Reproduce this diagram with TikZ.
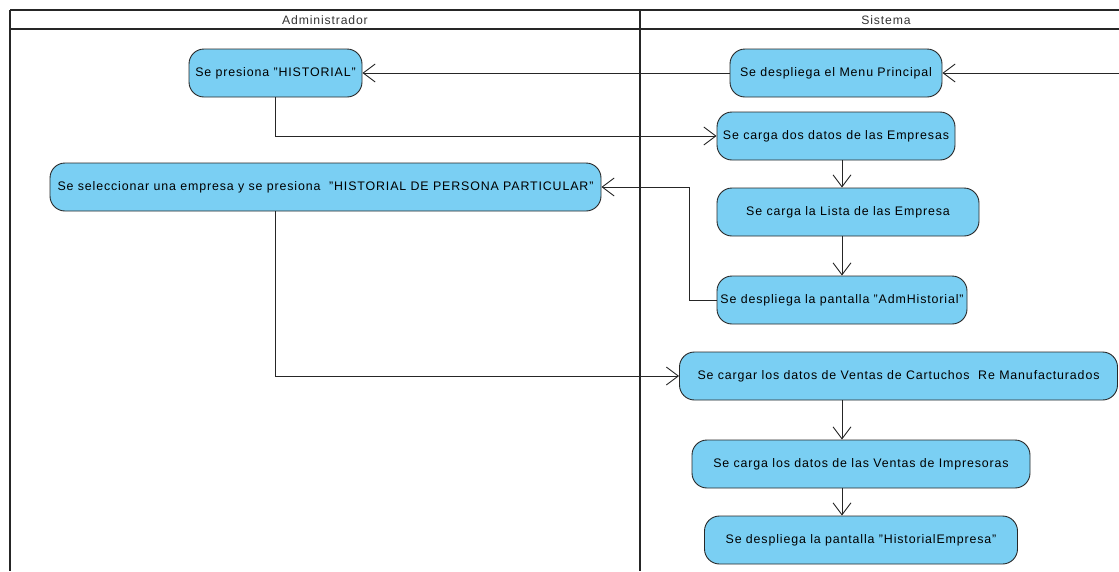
\documentclass[tikz,border=0pt]{standalone}
\usepackage{fontspec}
\setmainfont{Liberation Sans}[LetterSpace=7]
\usetikzlibrary{arrows.meta}
\definecolor{actfill}{RGB}{122,207,243}
\definecolor{actline}{RGB}{40,40,40}
\tikzset{
  act/.style={draw=actline, line width=0.9pt, fill=actfill, rounded corners=15pt,
    minimum height=48pt, inner sep=2pt, align=center, font=\fontsize{12.4pt}{14pt}\selectfont},
  lane/.style={line width=2pt, draw=black!85},
  lanethin/.style={line width=1.3pt, draw=black!85},
  flow/.style={line width=0.9pt, draw=black!85,
    -{Straight Barb[length=12pt,width=18pt,line width=0.9pt]}},
  hdr/.style={font=\fontsize{12.2pt}{13pt}\selectfont, text=black!80}
}
\begin{document}
\begin{tikzpicture}[x=1pt,y=-1pt]
\useasboundingbox (0,0) rectangle (1119,571);
% swimlanes
\draw[lanethin] (1119,10) -- (10,10);
\draw[lane] (10,10) -- (10,571);
\draw[lane] (10,29) -- (1119,29);
\draw[lane] (640,10) -- (640,571);
\node[hdr] (hadm) at (325,20) {Administrador};
\node[hdr] (hsis) at (886,20) {Sistema};
% activities
\node[act, minimum width=173pt] (n1) at (275.5,73) {Se presiona "HISTORIAL"};
\node[act, minimum width=212pt] (n2) at (836,73) {Se despliega el Menu Principal};
\node[act, minimum width=238pt] (n3) at (836,136) {Se carga dos datos de las Empresas};
\node[act, minimum width=551pt] (n4) at (325.5,187) {Se seleccionar una empresa y se presiona \ "HISTORIAL DE PERSONA PARTICULAR"};
\node[act, minimum width=262pt] (n5) at (848,212) {Se carga la Lista de las Empresa};
\node[act, minimum width=250pt] (n6) at (842,300) {Se despliega la pantalla "AdmHistorial"};
\node[act, minimum width=438pt] (n7) at (898.5,376) {Se cargar los datos de Ventas de Cartuchos \ Re Manufacturados};
\node[act, minimum width=338pt] (n8) at (861,464) {Se carga los datos de las Ventas de Impresoras};
\node[act, minimum width=313pt] (n9) at (861,540) {Se despliega la pantalla "HistorialEmpresa"};
% helper coordinates
\coordinate (entry) at (1119,73);
\coordinate (col) at (842,0);
\coordinate (lcol) at (275,0);
% connectors
\draw[flow] (entry) -- (n2.east);
\draw[flow] (n2.west) -- (n1.east);
\draw[flow] (n1.south -| lcol) |- (n3.west);
\draw[flow] (n3.south -| col) -- (n5.north -| col);
\draw[flow] (n5.south -| col) -- (n6.north -| col);
\draw[flow] (n6.west) -- ++(-27,0) |- (n4.east);
\draw[flow] (n4.south -| lcol) |- (n7.west);
\draw[flow] (n7.south -| col) -- (n8.north -| col);
\draw[flow] (n8.south -| col) -- (n9.north -| col);
\end{tikzpicture}
\end{document}
